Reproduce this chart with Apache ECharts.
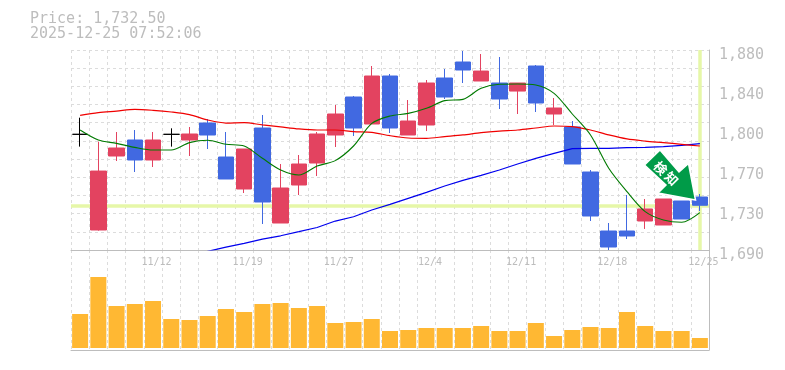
<!DOCTYPE html>
<html><head><meta charset="utf-8">
<style>html,body{margin:0;padding:0;background:#fff}#c{width:785px;height:370px}</style>
<script src="https://cdn.jsdelivr.net/npm/echarts@6/dist/echarts.min.js"></script>
</head><body><div id="c"></div>
<script>
const titleLines = ["Price: 1,732.50", "2025-12-25 07:52:06"];
const currentPrice = 1732.5;
const dates = ["","","","","11/12","","","","","11/19","","","","","11/27","","","","","12/4","","","","","12/11","","","","","12/18","","","","","12/25"];
const yTickValues = [1690,1728,1766,1804,1842,1880];
const yTickLabels = ["1,690","1,730","1,770","1,800","1,840","1,880"];
const opens  = [1799.9,1709,1779.3,1794.5,1775.5,1799.9,1794.5,1810.65,1778.35,1747.95,1805.9,1715.65,1751.75,1772.65,1799.25,1835.35,1809.7,1855.3,1799.25,1808.75,1853.4,1868.6,1850.55,1848.65,1841,1864.8,1819.2,1806.9,1764.1,1708.05,1708.05,1717.55,1713.75,1736.55,1740.35];
const closes = [1799.9,1765,1786.9,1775.5,1794.5,1799.9,1800.2,1799.25,1757.45,1785.95,1735.6,1748.9,1771.7,1800.2,1819.2,1805.9,1855.3,1805.9,1812.55,1848.65,1835.35,1861,1860,1833.45,1848.65,1829.65,1824.9,1771.7,1722.3,1692.85,1703.3,1729,1738.45,1719.45,1732.5];
const lows   = [1788.2,1708.4,1774.55,1764.1,1768.85,1788.2,1779.3,1785.95,1757.45,1744.15,1714.7,1715.65,1742.25,1760.3,1787.85,1798.3,1809.7,1801.15,1799.25,1803,1833.45,1848.65,1850.55,1823.95,1819.2,1821.1,1808.75,1771.7,1717.55,1690,1700.45,1710,1713.75,1719.45,1727.05];
const highs  = [1815.7,1792.9,1802.1,1804,1802.1,1805.6,1806.85,1814.45,1802.1,1785.95,1818.25,1771.7,1780.25,1802.1,1827.75,1836.3,1864.8,1857.2,1832.5,1851.5,1861.95,1879.05,1876.2,1873.35,1848.65,1865.75,1834.4,1812.55,1766,1715.65,1742.25,1738.45,1738.45,1736.55,1743.2];
const maShort = [1804,1794.5,1791.3,1787.5,1785,1785,1792,1794.2,1790.4,1788.8,1777.1,1766,1761.3,1769.8,1774.9,1788.8,1810.3,1817.3,1819.8,1824.6,1831.9,1833.1,1843.6,1847.4,1847.7,1846.8,1838.8,1819.2,1799.3,1767.6,1745.4,1726.4,1718.5,1716.3,1725.5];
const maMid = [1817.9,1820.5,1822,1823.6,1822.7,1821.1,1818.6,1813.5,1810.6,1811,1808.8,1806.9,1805,1804,1804,1802.4,1801.8,1798.6,1796.4,1796.1,1797.7,1799.3,1801.5,1803,1804,1805.9,1807.8,1807.2,1804,1799.3,1795.5,1793.5,1792,1790.4,1788.8];
const maLong = [null,null,null,null,null,null,1684.7,1688.7,1692.7,1696.3,1700.3,1703.5,1707.4,1711.4,1717.5,1721.6,1728,1733.4,1739.1,1744.8,1750.8,1756.2,1760.9,1766,1771.7,1777.1,1781.8,1786.3,1786.6,1786.6,1787.2,1787.5,1788.2,1789.4,1791];
const volumes = [102,213,126,132,141,87,84,96,117,108,132,135,120,126,75,78,87,51,54,60,60,60,66,51,51,75,36,54,63,60,108,66,51,51,30];

const FONT = '"DejaVu Sans Mono", monospace';
const GREY = '#bdbdbd';
const cats = dates.map((d,i)=>i+'|'+d);
const ohlc = opens.map((o,i)=>[o,closes[i],lows[i],highs[i]]);
const gridStyle = {show:true,lineStyle:{color:'#dcdcdc',type:[3,3],width:1}};
const catAxis = (gridIndex,showLabel)=>({
  type:'category',gridIndex,data:cats,boundaryGap:true,
  axisLine:{show:true,onZero:false,lineStyle:{color:GREY,width:1}},
  axisTick:{show:false},
  splitLine:{...gridStyle,interval:0},
  axisLabel:{show:showLabel,interval:i=>dates[i]!=='',margin:7,color:GREY,fontFamily:FONT,fontSize:10,
    padding:[0,0,0,7],formatter:v=>v.split('|')[1]}
});
const arrowGreen = '#009b48';
const chart = echarts.init(document.getElementById('c'),null,{renderer:'canvas'});
chart.setOption({
  animation:false,backgroundColor:'#fff',
  title:{text:titleLines.join('\n'),left:25,top:7,textStyle:{color:GREY,fontFamily:FONT,fontSize:15,fontWeight:'normal',lineHeight:15}},
  grid:[{left:71,width:638,top:50,height:200},{left:71,width:638,top:250,height:100}],
  xAxis:[catAxis(0,true),catAxis(1,false)],
  yAxis:[
   {type:'value',gridIndex:0,position:'right',min:1690,max:1880,
    splitNumber:11,interval:190/11,
    axisLine:{show:true,lineStyle:{color:GREY}},axisTick:{show:false},splitLine:gridStyle,
    axisLabel:{customValues:yTickValues,margin:10,color:GREY,fontFamily:FONT,fontSize:15,
      verticalAlign:'top',padding:[-2,0,0,0],
      formatter:v=>yTickLabels[yTickValues.indexOf(v)]}},
   {type:'value',gridIndex:1,position:'right',min:-6,max:294,
    axisLine:{show:true,lineStyle:{color:GREY}},axisTick:{show:false},splitLine:{show:false},axisLabel:{show:false}}
  ],
  series:[
   {type:'candlestick',xAxisIndex:0,yAxisIndex:0,data:ohlc,barWidth:16,z:3,
    itemStyle:{color:'#e34360',color0:'#4169e1',borderColor:'#e34360',borderColor0:'#4169e1',borderColorDoji:'#000',borderWidth:1},
    markLine:{silent:true,symbol:'none',label:{show:false},animation:false,z:1,
      lineStyle:{color:'#e6f7a8',width:3.5,type:'solid'},
      data:[{yAxis:currentPrice},{xAxis:cats[cats.length-1]}]}},
   {type:'line',xAxisIndex:0,yAxisIndex:0,data:maLong,smooth:false,showSymbol:false,z:4,lineStyle:{color:'#0000ee',width:1.2}},
   {type:'line',xAxisIndex:0,yAxisIndex:0,data:maMid,smooth:0.3,showSymbol:false,z:4,lineStyle:{color:'#f00000',width:1.2}},
   {type:'line',xAxisIndex:0,yAxisIndex:0,data:maShort,smooth:0.3,showSymbol:false,z:4,lineStyle:{color:'#007a00',width:1.1}},
   {type:'bar',xAxisIndex:1,yAxisIndex:1,data:volumes,barWidth:16,itemStyle:{color:'#ffb833'}}
  ],
  graphic:[
   {type:'polygon',z:100,shape:{points:[[660,150],[679,172],[688.5,163.5],[695.5,200],[658,193],[666,185],[644.5,165]]},
    style:{fill:arrowGreen,stroke:'#fff',lineWidth:1.5}},
   {type:'text',z:101,x:660.5,y:168,rotation:-Math.PI/4,style:{text:'検',fill:'#fff',font:'bold 13px "Noto Sans CJK JP"',align:'center',verticalAlign:'middle'}},
   {type:'text',z:101,x:671.5,y:178.5,rotation:-Math.PI/4,style:{text:'知',fill:'#fff',font:'bold 13px "Noto Sans CJK JP"',align:'center',verticalAlign:'middle'}}
  ]
});
</script></body></html>
